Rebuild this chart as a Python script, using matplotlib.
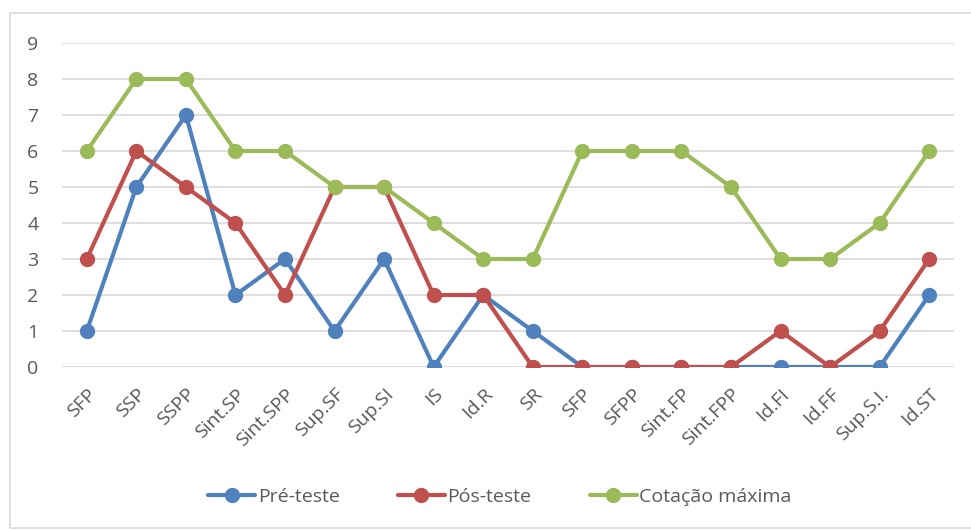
import matplotlib.pyplot as plt
from matplotlib.patches import Rectangle

categorias = ["SFP", "SSP", "SSPP", "Sint.SP", "Sint.SPP", "Sup.SF", "Sup.SI", "IS", "Id.R",
              "SR", "SFP", "SFPP", "Sint.FP", "Sint.FPP", "Id.FI", "Id.FF", "Sup.S.I.", "Id.ST"]
pre_teste = [1, 5, 7, 2, 3, 1, 3, 0, 2, 1, 0, 0, 0, 0, 0, 0, 0, 2]
pos_teste = [3, 6, 5, 4, 2, 5, 5, 2, 2, 0, 0, 0, 0, 0, 1, 0, 1, 3]
cotacao_max = [6, 8, 8, 6, 6, 5, 5, 4, 3, 3, 6, 6, 6, 5, 3, 3, 4, 6]

plt.rcParams['font.family'] = ['Open Sans', 'DejaVu Sans']

W, H = 971, 531
fig = plt.figure(figsize=(W / 100, H / 100), dpi=100)
fig.patches.append(Rectangle((10 / W, 3 / H), 1.0, (H - 16) / H, transform=fig.transFigure,
                             fill=False, edgecolor='#D9D9D9', linewidth=1.2))

ax = fig.add_axes([62 / W, (H - 367) / H, (954 - 62) / W, (367 - 43) / H])
x = list(range(len(categorias)))

series = [
    (pre_teste, '#4F81BD', 'Pré-teste'),
    (pos_teste, '#C0504D', 'Pós-teste'),
    (cotacao_max, '#9BBB59', 'Cotação máxima'),
]
for vals, cor, nome in series:
    ax.plot(x, vals, color=cor, linewidth=3, marker='o', markersize=10, label=nome,
            solid_capstyle='round')

ax.set_xlim(-0.5, len(categorias) - 0.5)
ax.set_ylim(0, 9)
ax.set_yticks(range(0, 10))
ax.grid(axis='y', color='#D9D9D9', linewidth=1.2)
ax.set_axisbelow(True)
for s in ax.spines.values():
    s.set_visible(False)
ax.tick_params(axis='both', length=0, labelsize=14, colors='#595959')
ax.tick_params(axis='y', pad=17)
ax.set_xticks(x)
ax.set_xticklabels(categorias, rotation=45, ha='right', va='top', rotation_mode='anchor')
ax.tick_params(axis='x', pad=13)

fig.legend(loc='center', bbox_to_anchor=(500 / W, 1 - 497 / H), ncol=3, frameon=False,
           fontsize=14, labelcolor='#595959', handlelength=2.4, handletextpad=0.15,
           columnspacing=3.0)

fig.savefig('out.png', dpi=100)
